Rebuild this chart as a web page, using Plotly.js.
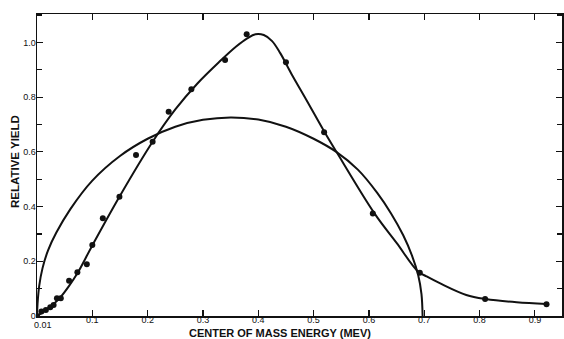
<!DOCTYPE html>
<html>
<head>
<meta charset="utf-8">
<script src="https://cdn.plot.ly/plotly-3.0.1.min.js"></script>
<style>html,body{margin:0;padding:0;background:#fff;}#chart{width:564px;height:339px;}</style>
</head>
<body>
<div id="chart"></div>
<script>
// Measured points (center of mass energy in MeV, relative yield)
const pointEnergy = [0, 0.008, 0.016, 0.024, 0.030, 0.036, 0.043, 0.058, 0.073, 0.090, 0.100, 0.119, 0.149, 0.179, 0.209, 0.238, 0.279, 0.340, 0.379, 0.450, 0.519, 0.607, 0.692, 0.810, 0.921];
const pointYield  = [0, 0.016, 0.022, 0.032, 0.040, 0.065, 0.065, 0.129, 0.160, 0.189, 0.260, 0.357, 0.436, 0.589, 0.637, 0.747, 0.829, 0.936, 1.030, 0.928, 0.672, 0.375, 0.158, 0.062, 0.043];

// Smooth curve drawn through the points
const fitEnergy = [0, 0.010, 0.020, 0.030, 0.043, 0.058, 0.073, 0.100, 0.149, 0.209, 0.250, 0.290, 0.330, 0.360, 0.380, 0.395, 0.410, 0.425, 0.440, 0.460, 0.487, 0.520, 0.541, 0.610, 0.650, 0.689, 0.704, 0.728, 0.776, 0.811, 0.867, 0.921];
const fitYield  = [0, 0.013, 0.028, 0.044, 0.070, 0.110, 0.156, 0.258, 0.436, 0.637, 0.755, 0.850, 0.930, 0.985, 1.015, 1.030, 1.027, 1.005, 0.960, 0.885, 0.790, 0.672, 0.601, 0.375, 0.267, 0.162, 0.145, 0.120, 0.077, 0.062, 0.050, 0.044];

// Semicircular curve
const arcEnergy = [0, 0.001, 0.004, 0.010, 0.020, 0.035, 0.060, 0.100, 0.150, 0.200, 0.250, 0.300, 0.350, 0.400, 0.450, 0.500, 0.541, 0.580, 0.615, 0.640, 0.662, 0.678, 0.689, 0.695, 0.697];
const arcYield  = [0, 0.045, 0.110, 0.175, 0.240, 0.305, 0.390, 0.495, 0.585, 0.648, 0.692, 0.717, 0.726, 0.718, 0.692, 0.648, 0.600, 0.535, 0.450, 0.375, 0.295, 0.220, 0.150, 0.080, 0];

// Tick labels
const xTickVals = [0.1, 0.2, 0.3, 0.4, 0.5, 0.6, 0.7, 0.8, 0.9];
const xTickText = ["0.1", "0.2", "0.3", "0.4", "0.5", "0.6", "0.7", "0.8", "0.9"];
const xExtraTickVal = 0.01;
const xExtraTickText = "0.01";
const yTickVals = [0, 0.2, 0.4, 0.6, 0.8, 1.0];
const yTickText = ["0", "0.2", "0.4", "0.6", "0.8", "1.0"];

const xTitle = "CENTER OF MASS ENERGY (MEV)";
const yTitle = "RELATIVE YIELD";

const tickFont = {family: "Liberation Sans, Arial, sans-serif", size: 9, color: "#111"};
const xTitleFont = {family: "Liberation Sans, Arial, sans-serif", size: 11, color: "#111", weight: 700};
const yTitleFont = {family: "Liberation Sans, Arial, sans-serif", size: 11.5, color: "#111", weight: 700};

const traces = [
  {x: arcEnergy, y: arcYield, mode: "lines", line: {color: "#111", width: 2, shape: "spline", smoothing: 1}, hoverinfo: "skip"},
  {x: fitEnergy, y: fitYield, mode: "lines", line: {color: "#111", width: 2, shape: "spline", smoothing: 1}, hoverinfo: "skip"},
  {x: pointEnergy, y: pointYield, mode: "markers", marker: {color: "#111", size: 6}}
];

const L = 37, R = 2, T = 14, B = 23, W = 564, H = 339;
const pw = W - L - R, ph = H - T - B;

const layout = {
  width: W, height: H,
  margin: {l: L, r: R, t: T, b: B, pad: 0},
  paper_bgcolor: "#fff", plot_bgcolor: "#fff",
  showlegend: false,
  xaxis: {
    range: [0, 0.949], showgrid: false, zeroline: false,
    showline: true, linecolor: "#111", linewidth: 1.5, mirror: "ticks",
    ticks: "inside", ticklen: 6, tickwidth: 1.2, tickcolor: "#111",
    tickvals: xTickVals, ticktext: xTickText, tickfont: tickFont,
    ticklabelstandoff: -5
  },
  yaxis: {
    range: [0, 1.104], showgrid: false, zeroline: false,
    showline: true, linecolor: "#111", linewidth: 1.5, mirror: "ticks",
    ticks: "inside", ticklen: 6, tickwidth: 1.2, tickcolor: "#111",
    tickvals: yTickVals, ticktext: yTickText, tickfont: tickFont,
    minor: {dtick: 0.1, tick0: 0, ticks: "inside", ticklen: 5, tickwidth: 1.2, tickcolor: "#111"},
    ticklabelstandoff: -2
  },
  annotations: [
    {text: xExtraTickText, x: xExtraTickVal, xref: "x", y: 0, yref: "paper", yshift: -2, yanchor: "top", showarrow: false, font: tickFont},
    {text: xTitle, xref: "paper", yref: "paper", x: (280 - L) / pw, y: -(332.5 - (H - B)) / ph, xanchor: "center", yanchor: "middle", showarrow: false, font: xTitleFont},
    {text: yTitle, xref: "paper", yref: "paper", x: (15 - L) / pw, y: ((H - B) - 162) / ph, xanchor: "center", yanchor: "middle", textangle: -90, showarrow: false, font: yTitleFont}
  ]
};

Plotly.newPlot("chart", traces, layout, {displayModeBar: false, staticPlot: true});
</script>
</body>
</html>
